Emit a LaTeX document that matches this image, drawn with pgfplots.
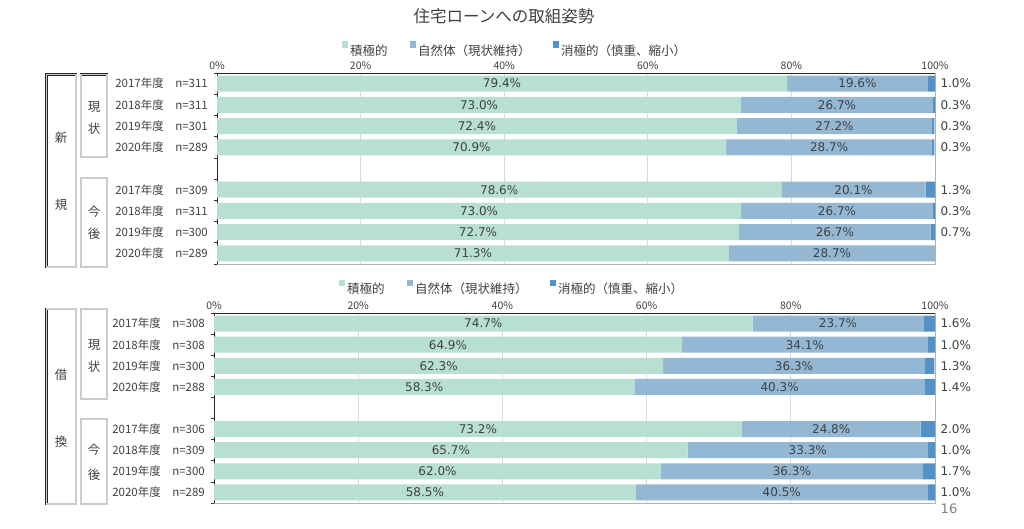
\documentclass[border=0pt]{standalone}
\usepackage{fontspec}
\setmainfont{Noto Sans CJK JP}
\newfontfamily\dv{DejaVu Sans}
\usepackage{pgfplots}
\usepackage{pgfplotstable}
\pgfplotsset{compat=1.18}
\definecolor{cg}{RGB}{184,224,210}
\definecolor{cm}{RGB}{148,184,212}
\definecolor{cd}{RGB}{82,146,198}
\definecolor{tx}{RGB}{64,64,64}

\pgfplotstableread{
y a b c
0 79.4 19.6 1.0
1 73.0 26.7 0.3
2 72.4 27.2 0.3
3 70.9 28.7 0.3
5 78.6 20.1 1.3
6 73.0 26.7 0.3
7 72.7 26.7 0.7
8 71.3 28.7 0.0
}\shinki

\pgfplotstableread{
y a b c
0 74.7 23.7 1.6
1 64.9 34.1 1.0
2 62.3 36.3 1.3
3 58.3 40.3 1.4
5 73.2 24.8 2.0
6 65.7 33.3 1.0
7 62.0 36.3 1.7
8 58.5 40.5 1.0
}\karikae

\pgfplotsset{
 base/.style={
  scale only axis, xmin=0, xmax=100, ymin=-0.5, ymax=8.5, y dir=reverse,
  enlargelimits=false,
  /pgf/number format/assume math mode=true,
 },
 bars/.style={base, xbar stacked, bar width=16pt,
  xtick={0,20,...,100}, xticklabels={0\%,20\%,40\%,60\%,80\%,100\%},
  xticklabel pos=upper, xtick pos=upper, xmajorgrids,
  grid style={gray!30, line width=0.7pt},
  ytick={0,1,2,3,5,6,7,8},
  minor ytick={-0.5,0.5,...,8.5},
  ytick pos=left,
  major tick length=0pt, minor tick length=3pt, tick align=outside,
  minor tick style={black!80, line width=0.6pt},
  axis line style={gray!60, line width=0.7pt},
  tick label style={text=tx},
  xticklabel style={font=\fontsize{10.5}{10.5}\selectfont},
  yticklabel style={font=\fontsize{11.5}{11.5}\selectfont, inner sep=0pt, anchor=east},
  yticklabel shift=9pt,
  legend columns=3,
  legend style={draw=none, fill=none, font=\fontsize{12.5}{12.5}\selectfont, text=tx,
    /tikz/every even column/.append style={column sep=20pt}, anchor=center},
  legend image code/.code={\fill[##1] (0pt,3pt) rectangle (6.5pt,9.5pt);},
 },
 labs/.style={base, hide axis,
  nodes near coords={\pgfmathprintnumber[fixed,fixed zerofill,precision=1]{\pgfplotspointmeta}\%},
  every node near coord/.append style={font=\dv\fontsize{12}{12}\selectfont, text=tx, anchor=center},
 },
 lp/.style={only marks, mark=*, mark size=0pt, mark options={draw=none, fill=none}, point meta=explicit},
}
\tikzset{
 dbl/.style={draw=black!85, double=gray!40, double distance=1.4pt, line width=0.7pt},
 sidetxt/.style={font=\fontsize{12.5}{12.5}\selectfont, text=tx},
}

\begin{document}
\begin{tikzpicture}
\useasboundingbox (0pt,0pt) rectangle (1024pt,-529pt);

\node[font=\fontsize{16.5}{17}\selectfont, text=black!75] at (504pt,-16pt) {住宅ローンへの取組姿勢};

% ---------- top panel ----------
\begin{axis}[bars, at={(217pt,-73pt)}, anchor=north west, width=718pt, height=191pt,
  yticklabels={\makebox[60pt][l]{2017年度}n=311,\makebox[60pt][l]{2018年度}n=311,\makebox[60pt][l]{2019年度}n=301,\makebox[60pt][l]{2020年度}n=289,
               \makebox[60pt][l]{2017年度}n=309,\makebox[60pt][l]{2018年度}n=311,\makebox[60pt][l]{2019年度}n=300,\makebox[60pt][l]{2020年度}n=289},
  legend style={at={(axis description cs:0.415,1.12)}}]
\addplot[fill=cg, draw=none] table[x=a, y=y] {\shinki};
\addlegendentry{積極的}
\addplot[fill=cm, draw=none] table[x=b, y=y] {\shinki};
\addlegendentry{自然体（現状維持）}
\addplot[fill=cd, draw=none] table[x=c, y=y] {\shinki};
\addlegendentry{消極的（慎重、縮小）}
\draw[black!85, line width=0.8pt] (axis description cs:0,0) -- (axis description cs:0,1) -- (axis description cs:1,1);
\end{axis}
\begin{axis}[labs, at={(217pt,-73pt)}, anchor=north west, width=718pt, height=191pt]
\addplot[lp] table[x expr=\thisrow{a}/2, y=y, meta=a] {\shinki};
\addplot[lp] table[x expr=\thisrow{a}+\thisrow{b}/2, y=y, meta=b] {\shinki};
\addplot[lp, skip coords between index={7}{8}, every node near coord/.append style={anchor=west, xshift=2pt}] table[x expr=100, y=y, meta=c] {\shinki};
\end{axis}

% ---------- bottom panel ----------
\begin{axis}[bars, at={(214pt,-313pt)}, anchor=north west, width=721pt, height=190pt,
  yticklabels={\makebox[60pt][l]{2017年度}n=308,\makebox[60pt][l]{2018年度}n=308,\makebox[60pt][l]{2019年度}n=300,\makebox[60pt][l]{2020年度}n=288,
               \makebox[60pt][l]{2017年度}n=306,\makebox[60pt][l]{2018年度}n=309,\makebox[60pt][l]{2019年度}n=300,\makebox[60pt][l]{2020年度}n=289},
  legend style={at={(axis description cs:0.413,1.13)}}]
\addplot[fill=cg, draw=none] table[x=a, y=y] {\karikae};
\addlegendentry{積極的}
\addplot[fill=cm, draw=none] table[x=b, y=y] {\karikae};
\addlegendentry{自然体（現状維持）}
\addplot[fill=cd, draw=none] table[x=c, y=y] {\karikae};
\addlegendentry{消極的（慎重、縮小）}
\draw[black!85, line width=0.8pt] (axis description cs:0,0) -- (axis description cs:0,1) -- (axis description cs:1,1);
\end{axis}
\begin{axis}[labs, at={(214pt,-313pt)}, anchor=north west, width=721pt, height=190pt]
\addplot[lp] table[x expr=\thisrow{a}/2, y=y, meta=a] {\karikae};
\addplot[lp] table[x expr=\thisrow{a}+\thisrow{b}/2, y=y, meta=b] {\karikae};
\addplot[lp, every node near coord/.append style={anchor=west, xshift=2pt}] table[x expr=100, y=y, meta=c] {\karikae};
\end{axis}

% ---------- side boxes ----------
\draw[dbl] (46.5pt,-74.5pt) rectangle (76pt,-267pt);
\draw[dbl] (81pt,-74.5pt) rectangle (107pt,-157pt);
\draw[dbl] (81pt,-178pt) rectangle (107pt,-267pt);
\node[sidetxt] at (61pt,-138pt) {新};
\node[sidetxt] at (61pt,-205pt) {規};
\node[sidetxt] at (94pt,-107pt) {現};
\node[sidetxt] at (94pt,-129pt) {状};
\node[sidetxt] at (94pt,-212pt) {今};
\node[sidetxt] at (94pt,-234pt) {後};

\draw[dbl] (46.5pt,-309pt) rectangle (76pt,-504pt);
\draw[dbl] (81pt,-309pt) rectangle (107pt,-399pt);
\draw[dbl] (81pt,-419pt) rectangle (107pt,-504pt);
\node[sidetxt] at (61pt,-375pt) {借};
\node[sidetxt] at (61pt,-442pt) {換};
\node[sidetxt] at (94pt,-345pt) {現};
\node[sidetxt] at (94pt,-367pt) {状};
\node[sidetxt] at (94pt,-450pt) {今};
\node[sidetxt] at (94pt,-475pt) {後};

\node[font=\dv\fontsize{13}{13}\selectfont, text=gray] at (949pt,-509pt) {16};
\end{tikzpicture}
\end{document}
